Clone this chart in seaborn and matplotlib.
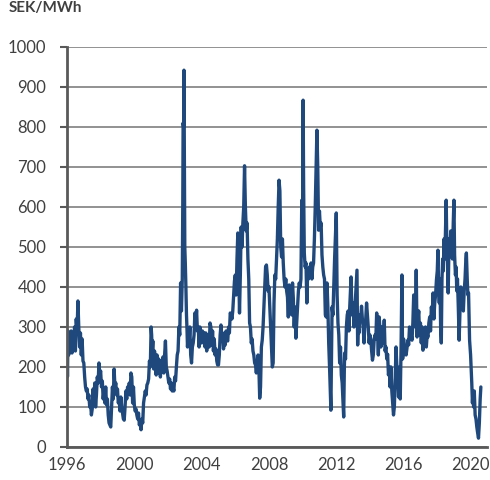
import matplotlib
matplotlib.use("Agg")
import matplotlib.pyplot as plt
import seaborn as sns
import pandas as pd

# decimal years and system price, SEK/MWh
years = [
    1996.00, 1996.03, 1996.06, 1996.10, 1996.15, 1996.20, 1996.25, 1996.30, 1996.35, 1996.40,
    1996.45, 1996.50, 1996.55, 1996.60, 1996.65, 1996.70, 1996.75, 1996.80, 1996.85, 1996.90,
    1996.95, 1997.00, 1997.05, 1997.10, 1997.15, 1997.20, 1997.25, 1997.30, 1997.35, 1997.40,
    1997.45, 1997.50, 1997.55, 1997.60, 1997.65, 1997.70, 1997.75, 1997.80, 1997.85, 1997.90,
    1997.95, 1998.00, 1998.05, 1998.10, 1998.15, 1998.20, 1998.25, 1998.30, 1998.35, 1998.40,
    1998.45, 1998.50, 1998.55, 1998.60, 1998.65, 1998.70, 1998.75, 1998.80, 1998.85, 1998.90,
    1998.95, 1999.00, 1999.05, 1999.10, 1999.15, 1999.20, 1999.25, 1999.30, 1999.35, 1999.40,
    1999.45, 1999.50, 1999.55, 1999.60, 1999.65, 1999.70, 1999.75, 1999.80, 1999.85, 1999.90,
    1999.95, 2000.00, 2000.05, 2000.10, 2000.15, 2000.20, 2000.25, 2000.30, 2000.35, 2000.40,
    2000.45, 2000.50, 2000.55, 2000.60, 2000.65, 2000.70, 2000.75, 2000.80, 2000.85, 2000.90,
    2000.95, 2001.00, 2001.03, 2001.06, 2001.10, 2001.15, 2001.20, 2001.25, 2001.30, 2001.35,
    2001.40, 2001.45, 2001.50, 2001.55, 2001.60, 2001.65, 2001.70, 2001.75, 2001.80, 2001.85,
    2001.90, 2001.95, 2002.00, 2002.05, 2002.10, 2002.15, 2002.20, 2002.25, 2002.30, 2002.35,
    2002.40, 2002.45, 2002.50, 2002.55, 2002.60, 2002.65, 2002.70, 2002.75, 2002.80, 2002.85,
    2002.88, 2002.90, 2002.93, 2002.95, 2002.98, 2003.00, 2003.03, 2003.06, 2003.10, 2003.13,
    2003.16, 2003.20, 2003.25, 2003.30, 2003.35, 2003.40, 2003.45, 2003.50, 2003.55, 2003.60,
    2003.65, 2003.70, 2003.75, 2003.80, 2003.85, 2003.90, 2003.95, 2004.00, 2004.05, 2004.10,
    2004.15, 2004.20, 2004.25, 2004.30, 2004.35, 2004.40, 2004.45, 2004.50, 2004.55, 2004.60,
    2004.65, 2004.70, 2004.75, 2004.80, 2004.85, 2004.90, 2004.95, 2005.00, 2005.05, 2005.10,
    2005.15, 2005.20, 2005.25, 2005.30, 2005.35, 2005.40, 2005.45, 2005.50, 2005.55, 2005.60,
    2005.65, 2005.70, 2005.75, 2005.80, 2005.85, 2005.90, 2005.95, 2006.00, 2006.05, 2006.10,
    2006.15, 2006.20, 2006.25, 2006.30, 2006.35, 2006.40, 2006.45, 2006.50, 2006.55, 2006.60,
    2006.65, 2006.70, 2006.75, 2006.80, 2006.85, 2006.90, 2006.95, 2007.00, 2007.05, 2007.10,
    2007.15, 2007.20, 2007.25, 2007.30, 2007.35, 2007.40, 2007.45, 2007.50, 2007.55, 2007.60,
    2007.65, 2007.70, 2007.75, 2007.80, 2007.85, 2007.90, 2007.95, 2008.00, 2008.05, 2008.10,
    2008.15, 2008.20, 2008.25, 2008.30, 2008.35, 2008.40, 2008.45, 2008.50, 2008.55, 2008.60,
    2008.65, 2008.70, 2008.75, 2008.80, 2008.85, 2008.90, 2008.95, 2009.00, 2009.05, 2009.10,
    2009.15, 2009.20, 2009.25, 2009.30, 2009.35, 2009.40, 2009.45, 2009.50, 2009.55, 2009.60,
    2009.65, 2009.70, 2009.75, 2009.80, 2009.85, 2009.90, 2009.95, 2010.00, 2010.03, 2010.06,
    2010.10, 2010.15, 2010.20, 2010.25, 2010.30, 2010.35, 2010.40, 2010.45, 2010.50, 2010.55,
    2010.60, 2010.65, 2010.70, 2010.75, 2010.80, 2010.85, 2010.90, 2010.95, 2011.00, 2011.05,
    2011.10, 2011.15, 2011.20, 2011.25, 2011.30, 2011.35, 2011.40, 2011.45, 2011.50, 2011.55,
    2011.60, 2011.68, 2011.72, 2011.75, 2011.80, 2011.85, 2011.90, 2011.95, 2012.00, 2012.05,
    2012.10, 2012.15, 2012.20, 2012.25, 2012.30, 2012.35, 2012.44, 2012.48, 2012.50, 2012.55,
    2012.60, 2012.65, 2012.70, 2012.75, 2012.80, 2012.88, 2012.92, 2012.95, 2013.00, 2013.05,
    2013.10, 2013.15, 2013.23, 2013.27, 2013.30, 2013.35, 2013.40, 2013.45, 2013.50, 2013.55,
    2013.60, 2013.65, 2013.70, 2013.75, 2013.80, 2013.85, 2013.90, 2013.95, 2014.00, 2014.05,
    2014.10, 2014.15, 2014.20, 2014.25, 2014.30, 2014.35, 2014.40, 2014.45, 2014.50, 2014.55,
    2014.60, 2014.65, 2014.70, 2014.75, 2014.80, 2014.85, 2014.90, 2014.95, 2015.00, 2015.05,
    2015.10, 2015.15, 2015.20, 2015.25, 2015.30, 2015.35, 2015.40, 2015.45, 2015.50, 2015.55,
    2015.60, 2015.65, 2015.70, 2015.75, 2015.80, 2015.85, 2015.90, 2015.94, 2015.97, 2016.00,
    2016.05, 2016.10, 2016.15, 2016.20, 2016.25, 2016.30, 2016.35, 2016.40, 2016.45, 2016.50,
    2016.55, 2016.60, 2016.65, 2016.70, 2016.75, 2016.80, 2016.85, 2016.90, 2016.95, 2017.00,
    2017.05, 2017.10, 2017.15, 2017.20, 2017.25, 2017.30, 2017.35, 2017.40, 2017.45, 2017.50,
    2017.55, 2017.60, 2017.65, 2017.70, 2017.75, 2017.80, 2017.85, 2017.90, 2017.95, 2018.00,
    2018.04, 2018.08, 2018.12, 2018.16, 2018.20, 2018.24, 2018.28, 2018.32, 2018.36, 2018.40,
    2018.45, 2018.50, 2018.53, 2018.57, 2018.61, 2018.65, 2018.70, 2018.75, 2018.80, 2018.85,
    2018.90, 2018.95, 2018.99, 2019.03, 2019.08, 2019.12, 2019.16, 2019.20, 2019.25, 2019.30,
    2019.35, 2019.40, 2019.45, 2019.50, 2019.55, 2019.60, 2019.65, 2019.70, 2019.73, 2019.78,
    2019.82, 2019.86, 2019.92, 2019.98, 2020.05, 2020.09, 2020.12, 2020.16, 2020.20, 2020.25,
    2020.30, 2020.35, 2020.40, 2020.45, 2020.50, 2020.55, 2020.59,
]

prices = [
    260, 176, 290, 230, 280, 240, 290, 235, 275, 250,
    300, 240, 320, 290, 365, 300, 250, 285, 230, 270,
    215, 210, 175, 150, 140, 145, 120, 130, 100, 110,
    80, 95, 145, 110, 160, 100, 130, 175, 160, 210,
    180, 190, 150, 165, 120, 140, 110, 150, 105, 120,
    80, 60, 55, 50, 100, 150, 120, 195, 150, 160,
    130, 145, 110, 120, 90, 125, 100, 85, 70, 67,
    100, 140, 120, 150, 135, 160, 130, 185, 175, 110,
    150, 105, 90, 95, 80, 70, 85, 55, 65, 43,
    70, 60, 110, 125, 140, 130, 155, 160, 170, 215,
    200, 300, 280, 240, 265, 195, 240, 215, 180, 230,
    185, 220, 205, 175, 215, 195, 225, 185, 230, 265,
    200, 190, 175, 160, 170, 145, 160, 140, 150, 140,
    175, 165, 200, 230, 240, 300, 280, 410, 340, 420,
    610, 810, 800, 942, 640, 500, 460, 410, 330, 295,
    250, 280, 260, 300, 230, 210, 250, 260, 280, 335,
    310, 342, 290, 300, 250, 300, 280, 260, 290, 270,
    285, 250, 285, 240, 265, 280, 250, 310, 300, 255,
    290, 240, 270, 230, 245, 215, 205, 205, 230, 280,
    305, 270, 285, 245, 270, 255, 290, 270, 265, 300,
    285, 335, 330, 320, 340, 380, 415, 430, 380, 470,
    535, 450, 335, 430, 550, 500, 560, 600, 703, 600,
    540, 560, 470, 420, 310, 300, 260, 270, 240, 230,
    210, 205, 185, 210, 230, 200, 122, 150, 250, 267,
    300, 350, 400, 450, 455, 430, 390, 400, 350, 300,
    250, 200, 210, 360, 430, 420, 470, 520, 600, 667,
    640, 500, 475, 520, 460, 420, 400, 420, 390, 375,
    325, 405, 360, 340, 330, 410, 370, 300, 350, 272,
    310, 350, 390, 410, 400, 420, 617, 600, 867, 650,
    485, 450, 460, 360, 440, 420, 450, 430, 460, 420,
    450, 460, 520, 600, 700, 792, 700, 542, 590, 550,
    560, 480, 450, 430, 420, 330, 325, 410, 350, 260,
    200, 92, 250, 350, 330, 400, 470, 530, 585, 380,
    310, 280, 210, 250, 180, 160, 75, 200, 235, 220,
    300, 330, 340, 290, 350, 425, 350, 330, 360, 300,
    340, 380, 442, 255, 300, 285, 330, 320, 352, 320,
    300, 260, 310, 320, 360, 330, 300, 260, 280, 270,
    240, 217, 230, 267, 280, 270, 335, 290, 230, 325,
    290, 250, 300, 270, 260, 317, 240, 250, 220, 232,
    180, 200, 150, 200, 140, 110, 80, 100, 170, 250,
    200, 180, 125, 200, 120, 250, 430, 220, 230, 270,
    240, 250, 230, 247, 267, 255, 300, 290, 280, 267,
    310, 380, 342, 300, 442, 275, 320, 340, 280, 310,
    260, 300, 242, 280, 260, 300, 250, 280, 275, 310,
    325, 290, 350, 330, 385, 320, 360, 380, 417, 440,
    492, 400, 360, 420, 300, 260, 420, 470, 440, 520,
    470, 560, 617, 500, 460, 385, 520, 480, 540, 500,
    470, 560, 617, 480, 430, 450, 390, 420, 350, 267,
    340, 400, 370, 380, 340, 390, 420, 470, 485, 420,
    380, 385, 267, 230, 160, 110, 135, 100, 140, 80,
    70, 50, 35, 22, 60, 120, 150,
]

y_ticks = [0, 100, 200, 300, 400, 500, 600, 700, 800, 900, 1000]
x_ticks = [1996, 2000, 2004, 2008, 2012, 2016, 2020]
unit_label = "SEK/MWh"

df = pd.DataFrame({"year": years, "price": prices})

sns.set_theme(style="white")
plt.rcParams["font.family"] = ["Lato", "DejaVu Sans"]

fig = plt.figure(figsize=(4.9, 4.8), dpi=100)
ax = fig.add_axes([0.1367, 0.0688, 0.857, 0.8333])

sns.lineplot(data=df, x="year", y="price", ax=ax, color="#1F497D",
             linewidth=2.4, zorder=3, estimator=None, sort=False)

ax.set_xlim(1996, 2020.95)
ax.set_ylim(0, 1000)
ax.set_yticks(y_ticks)
ax.set_xticks(x_ticks)
ax.set_xticklabels([str(t) for t in x_ticks])
ax.set_yticklabels([str(t) for t in y_ticks])
ax.set_xlabel("")
ax.set_ylabel("")

ax.yaxis.grid(True, color="#7F7F7F", linewidth=1.2, zorder=1)
ax.xaxis.grid(False)
for side in ["top", "right"]:
    ax.spines[side].set_visible(False)
for side in ["left", "bottom"]:
    ax.spines[side].set_color("#595959")
    ax.spines[side].set_linewidth(2.0)
    ax.spines[side].set_zorder(4)

ax.tick_params(axis="y", left=True, length=5, width=1.5, color="#595959",
               labelsize=12, labelcolor="#404040", pad=10)
ax.tick_params(axis="x", bottom=False, length=0, labelsize=12,
               labelcolor="#404040", pad=7)

fig.text(0.018, 1 - 1 / 480, unit_label, fontsize=11, fontweight="bold",
         color="#404040", ha="left", va="top")

fig.savefig("out.png", dpi=100)
